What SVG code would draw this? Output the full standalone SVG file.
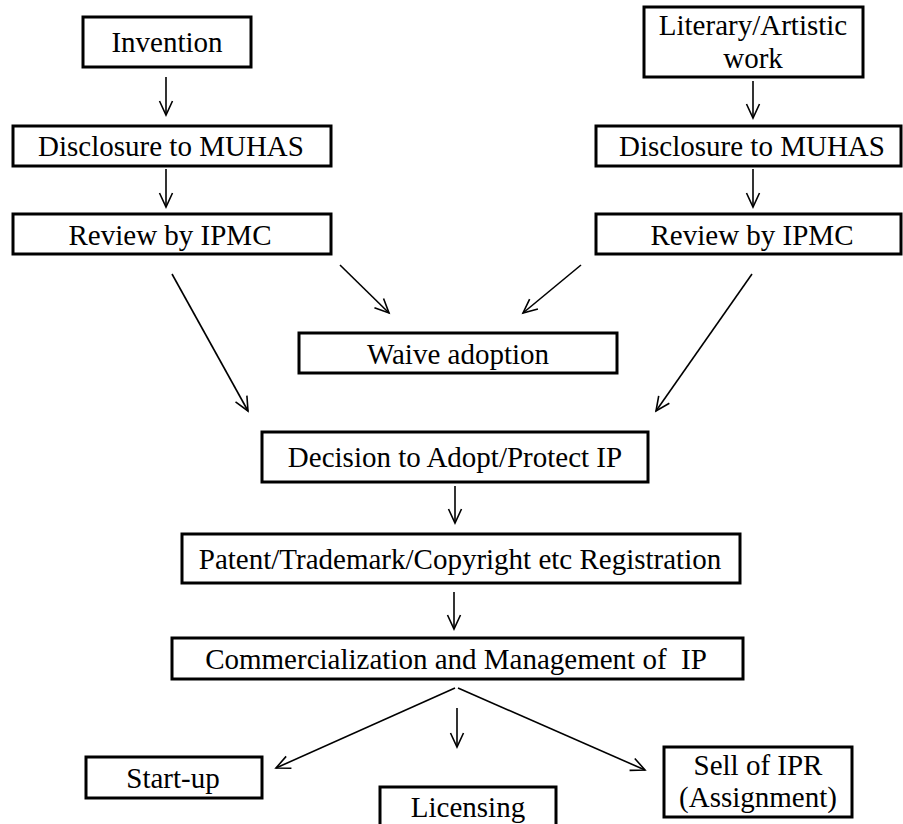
<svg xmlns="http://www.w3.org/2000/svg" width="903" height="824" viewBox="0 0 903 824">
<defs>
<style>
.box{fill:#fff;stroke:#000;stroke-width:3}
.t{font-family:"Liberation Serif","Times New Roman",serif;font-size:29px;fill:#000;text-anchor:middle;white-space:pre}
.c{fill:none;stroke:#000;stroke-width:1.6}
</style>
<marker id="ah" markerUnits="userSpaceOnUse" markerWidth="20" markerHeight="20" viewBox="0 0 20 20" refX="16" refY="10" orient="auto">
<path d="M2,3.5 L16,10 L2,16.5" fill="none" stroke="#000" stroke-width="1.6"/>
</marker>
</defs>
<rect width="903" height="824" fill="#fff"/>
<g id="connectors">
<line class="c" x1="166" y1="77" x2="166" y2="115" marker-end="url(#ah)"/>
<line class="c" x1="166" y1="169" x2="166" y2="207" marker-end="url(#ah)"/>
<line class="c" x1="753" y1="81" x2="753" y2="118" marker-end="url(#ah)"/>
<line class="c" x1="753" y1="169" x2="753" y2="207" marker-end="url(#ah)"/>
<line class="c" x1="172" y1="274" x2="248" y2="411" marker-end="url(#ah)"/>
<line class="c" x1="340" y1="265" x2="389" y2="313" marker-end="url(#ah)"/>
<line class="c" x1="581" y1="265" x2="523" y2="313" marker-end="url(#ah)"/>
<line class="c" x1="752" y1="274" x2="656" y2="411" marker-end="url(#ah)"/>
<line class="c" x1="455" y1="486" x2="455" y2="523" marker-end="url(#ah)"/>
<line class="c" x1="454" y1="592" x2="454" y2="629" marker-end="url(#ah)"/>
<line class="c" x1="455" y1="688" x2="276" y2="768" marker-end="url(#ah)"/>
<line class="c" x1="458" y1="688" x2="645" y2="770" marker-end="url(#ah)"/>
<line class="c" x1="457" y1="708" x2="457" y2="747" marker-end="url(#ah)"/>
</g>
<g id="invention"><rect class="box" x="83" y="17" width="168" height="50"/><text class="t" x="167" y="52">Invention</text></g>
<g id="literary"><rect class="box" x="644" y="7" width="219" height="70"/><text class="t" x="753" y="35">Literary/Artistic</text><text class="t" x="753" y="68">work</text></g>
<g id="disclosure-left"><rect class="box" x="13" y="126" width="318" height="40"/><text class="t" x="171" y="156">Disclosure to MUHAS</text></g>
<g id="disclosure-right"><rect class="box" x="596" y="126" width="305" height="40"/><text class="t" x="752" y="156">Disclosure to MUHAS</text></g>
<g id="review-left"><rect class="box" x="13" y="214" width="318" height="40"/><text class="t" x="170" y="245">Review by IPMC</text></g>
<g id="review-right"><rect class="box" x="596" y="214" width="305" height="40"/><text class="t" x="752" y="245">Review by IPMC</text></g>
<g id="waive"><rect class="box" x="299" y="333" width="318" height="40"/><text class="t" x="458" y="364">Waive adoption</text></g>
<g id="decision"><rect class="box" x="262" y="432" width="386" height="50"/><text class="t" x="455" y="467">Decision to Adopt/Protect IP</text></g>
<g id="registration"><rect class="box" x="182" y="534" width="558" height="49"/><text class="t" x="460" y="569">Patent/Trademark/Copyright etc Registration</text></g>
<g id="commercialization"><rect class="box" x="172" y="638" width="571" height="41"/><text class="t" x="456" y="669">Commercialization and Management of  IP</text></g>
<g id="startup"><rect class="box" x="86" y="757" width="176" height="41"/><text class="t" x="173" y="788">Start-up</text></g>
<g id="licensing"><rect class="box" x="380" y="787" width="176" height="50"/><text class="t" x="468" y="817">Licensing</text></g>
<g id="sell"><rect class="box" x="664" y="747" width="188" height="70"/><text class="t" x="758" y="775">Sell of IPR</text><text class="t" x="758" y="807">(Assignment)</text></g>
</svg>
